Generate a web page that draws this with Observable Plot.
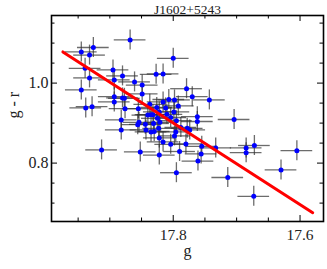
<!DOCTYPE html>
<html>
<head>
<meta charset="utf-8">
<script src="https://cdn.jsdelivr.net/npm/d3@7"></script>
<script src="https://cdn.jsdelivr.net/npm/@observablehq/plot@0.6"></script>
<style>
  html, body { margin: 0; padding: 0; background: #fff; }
</style>
</head>
<body>
<div id="chart"></div>
<script>
const title = "J1602+5243";
const gMag = [17.945,17.926,17.932,17.868,17.939,17.932,17.945,17.938,17.928,17.913,
  17.895,17.893,17.880,17.861,17.849,17.849,17.893,17.880,17.877,17.893,
  17.876,17.882,17.882,17.852,17.827,17.816,17.800,17.779,17.770,17.743,
  17.704,17.855,17.856,17.854,17.840,17.835,17.837,17.826,17.816,17.807,
  17.798,17.792,17.812,17.822,17.832,17.825,17.821,17.843,17.835,17.830,
  17.823,17.822,17.816,17.822,17.804,17.798,17.796,17.795,17.799,17.810,
  17.804,17.788,17.780,17.790,17.795,17.778,17.774,17.762,17.762,17.755,
  17.756,17.761,17.733,17.685,17.685,17.672,17.714,17.673,17.630,17.605,
  17.831,17.844];
const gr = [1.078,1.089,1.070,1.108,1.037,1.013,0.983,0.938,0.941,0.833,
  1.033,1.008,1.018,1.003,0.995,0.973,0.966,0.963,0.962,0.953,
  0.936,0.908,0.883,0.828,1.022,1.023,1.062,0.986,0.966,0.958,
  0.909,0.936,0.896,0.902,0.920,0.921,0.947,0.939,0.953,0.959,
  0.958,0.943,0.938,0.928,0.921,0.912,0.902,0.883,0.878,0.879,
  0.887,0.863,0.853,0.820,0.847,0.868,0.878,0.906,0.928,0.922,
  0.914,0.889,0.848,0.829,0.776,0.887,0.883,0.916,0.904,0.842,
  0.823,0.805,0.838,0.838,0.826,0.844,0.764,0.717,0.783,0.831,
  0.899,0.897];
const gErr = 0.025;
const grErr = 0.025;
const fitG = [17.974, 17.580];
const fitGR = [1.078, 0.676];
const xMajor = [17.8, 17.6];
const xMinor = [17.95, 17.9, 17.85, 17.75, 17.7, 17.65];
const yMajor = [0.8, 1.0];
const yMinor = [0.7, 0.75, 0.85, 0.9, 0.95, 1.05, 1.1, 1.15];

const pts = gMag.map((g, i) => ({g, r: gr[i]}));
const fit = fitG.map((g, i) => ({g, r: fitGR[i]}));

const W = 327, H = 269, mT = 15, mB = 48, mL = 51, mR = 4;
const iH = H - mT - mB, iW = W - mL - mR;
const font = "'Liberation Serif', 'DejaVu Serif', serif";

const xTicks = (vals, len) => [
  Plot.tickX(vals, {x: d => d, insetTop: iH - len, stroke: "#000", strokeWidth: 1}),
  Plot.tickX(vals, {x: d => d, insetBottom: iH - len, stroke: "#000", strokeWidth: 1})
];
const yTicks = (vals, len) => [
  Plot.tickY(vals, {y: d => d, insetRight: iW - len, stroke: "#000", strokeWidth: 1}),
  Plot.tickY(vals, {y: d => d, insetLeft: iW - len, stroke: "#000", strokeWidth: 1})
];

const chart = Plot.plot({
  width: W, height: H,
  marginTop: mT, marginBottom: mB, marginLeft: mL, marginRight: mR,
  style: {fontFamily: font, background: "#fff", overflow: "visible"},
  x: {domain: [17.992, 17.563]},
  y: {domain: [0.654, 1.169]},
  marks: [
    Plot.ruleY(pts, {y: "r", x1: d => d.g - gErr, x2: d => d.g + gErr, stroke: "#333", strokeOpacity: 0.72, strokeWidth: 1.3}),
    Plot.ruleX(pts, {x: "g", y1: d => d.r - grErr, y2: d => d.r + grErr, stroke: "#333", strokeOpacity: 0.72, strokeWidth: 1.3}),
    Plot.dot(pts, {x: "g", y: "r", r: 2.5, fill: "#0000ff", stroke: "none"}),
    Plot.line(fit, {x: "g", y: "r", stroke: "#ff0000", strokeWidth: 3}),
    ...xTicks(xMajor, 6), ...xTicks(xMinor, 3.5),
    ...yTicks(yMajor, 6), ...yTicks(yMinor, 3.5),
    Plot.frame({stroke: "#000", strokeWidth: 1.6}),
    Plot.axisX(xMajor, {tickSize: 0, tickPadding: 7, tickFormat: d3.format(".1f"), fontSize: 15.5, fill: "#222", label: null}),
    Plot.axisY(yMajor, {tickSize: 0, tickPadding: 3, tickFormat: d3.format(".1f"), fontSize: 16, fill: "#222", label: null}),
    Plot.text([title], {frameAnchor: "top", dy: -5.5, fontSize: 13.5, fill: "#222", lineAnchor: "middle"}),
    Plot.text(["g"], {frameAnchor: "bottom", dy: 29.5, fontSize: 16, fill: "#222", lineAnchor: "middle"}),
    Plot.text(["g - r"], {frameAnchor: "left", dx: -38, dy: 0, rotate: -90, fontSize: 16, fill: "#222", lineAnchor: "middle"})
  ]
});
document.getElementById("chart").appendChild(chart);
</script>
</body>
</html>
